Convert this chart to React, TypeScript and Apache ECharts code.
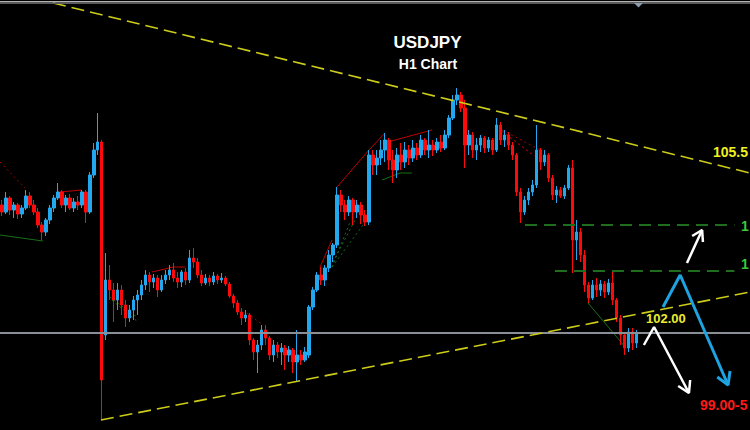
import { useEffect, useRef } from "react";
import * as echarts from "echarts";

// ---- data ----
const TITLE = "USDJPY";
const SUBTITLE = "H1 Chart";
const SLOT_COUNT = 188; // hourly slots across the window (candles + empty projection space)
const PRICE_MIN = 100.0;
const PRICE_MAX = 108.6;

// [open, close, low, high]
const CANDLES: number[][] = [
  [104.50, 104.36, 104.28, 104.60], [104.36, 104.64, 104.32, 104.76], [104.64, 104.40, 104.30, 104.68],
  [104.40, 104.50, 104.24, 104.56], [104.50, 104.32, 104.22, 104.54], [104.32, 104.44, 104.24, 104.50],
  [104.44, 104.68, 104.40, 104.80], [104.68, 104.50, 104.44, 104.76], [104.50, 104.36, 104.30, 104.60],
  [104.36, 104.10, 104.04, 104.44], [104.10, 103.96, 103.80, 104.16], [103.96, 104.20, 103.88, 104.24],
  [104.20, 104.44, 104.12, 104.50], [104.44, 104.64, 104.36, 104.70], [104.64, 104.76, 104.60, 104.94],
  [104.76, 104.50, 104.44, 104.80], [104.50, 104.64, 104.36, 104.70], [104.64, 104.44, 104.40, 104.72],
  [104.44, 104.56, 104.36, 104.64], [104.56, 104.50, 104.40, 104.68], [104.50, 104.76, 104.44, 104.80],
  [104.76, 104.36, 104.14, 104.80], [104.36, 105.10, 104.32, 105.16], [105.10, 105.60, 105.04, 105.74],
  [105.60, 105.76, 105.50, 106.34], [105.76, 101.00, 100.20, 105.80], [101.90, 103.00, 101.80, 103.54],
  [103.00, 102.80, 102.60, 103.30], [102.80, 102.60, 102.16, 102.94], [102.60, 102.80, 102.40, 102.94],
  [102.80, 102.50, 102.30, 102.90], [102.50, 102.24, 102.06, 102.60], [102.24, 102.40, 102.16, 102.50],
  [102.40, 102.60, 102.20, 102.68], [102.60, 102.70, 102.30, 102.80], [102.70, 102.90, 102.60, 103.00],
  [102.90, 103.10, 102.80, 103.20], [103.10, 102.96, 102.76, 103.16], [102.96, 103.04, 102.84, 103.12],
  [103.04, 102.80, 102.66, 103.10], [102.80, 103.00, 102.76, 103.10], [103.00, 103.10, 102.92, 103.20],
  [103.10, 103.20, 103.00, 103.30], [103.20, 103.04, 102.96, 103.34], [103.04, 102.96, 102.84, 103.16],
  [102.96, 103.16, 102.86, 103.20], [103.16, 103.00, 102.90, 103.24], [103.00, 103.44, 102.94, 103.60],
  [103.44, 103.36, 103.24, 103.64], [103.36, 103.10, 103.04, 103.44], [103.10, 102.94, 102.88, 103.20],
  [102.94, 103.04, 102.90, 103.12], [103.04, 102.96, 102.88, 103.10], [102.96, 103.08, 102.90, 103.16],
  [103.08, 103.00, 102.92, 103.12], [103.00, 103.04, 102.94, 103.14], [103.04, 102.92, 102.88, 103.08],
  [102.92, 102.68, 102.64, 102.96], [102.68, 102.54, 102.44, 102.72], [102.54, 102.36, 102.30, 102.60],
  [102.36, 102.24, 102.10, 102.44], [102.24, 102.30, 102.16, 102.40], [102.30, 101.80, 101.70, 102.34],
  [101.80, 101.56, 101.40, 101.84], [101.56, 101.70, 101.14, 101.80], [101.70, 102.00, 101.60, 102.10],
  [102.00, 101.84, 101.70, 102.10], [101.84, 101.50, 101.40, 101.88], [101.50, 101.70, 101.36, 101.80],
  [101.70, 101.56, 101.44, 101.76], [101.56, 101.64, 101.30, 101.74], [101.64, 101.50, 101.20, 101.70],
  [101.50, 101.60, 101.36, 101.68], [101.60, 101.36, 101.14, 101.64], [101.36, 101.50, 100.96, 102.00],
  [101.50, 101.40, 101.30, 101.60], [101.40, 101.56, 101.36, 101.66], [101.50, 102.46, 101.44, 102.50],
  [102.46, 102.80, 102.40, 102.86], [102.80, 103.10, 102.76, 103.16], [103.10, 103.00, 102.90, 103.26],
  [103.00, 103.24, 102.88, 103.30], [103.24, 103.50, 103.16, 103.60], [103.50, 103.70, 103.36, 103.74],
  [103.70, 104.70, 103.64, 104.86], [104.70, 104.50, 104.36, 104.80], [104.50, 104.36, 104.20, 104.60],
  [104.36, 104.60, 104.28, 104.68], [104.60, 104.36, 104.10, 104.64], [104.36, 104.50, 104.24, 104.60],
  [104.50, 104.30, 104.12, 104.56], [104.30, 104.16, 104.08, 104.40], [104.16, 105.50, 104.10, 105.60],
  [105.50, 105.30, 105.10, 105.60], [105.30, 105.44, 105.10, 105.60], [105.44, 105.60, 105.30, 105.80],
  [105.60, 105.80, 105.36, 105.94], [105.80, 105.40, 105.20, 105.84], [105.40, 105.20, 104.94, 105.60],
  [105.20, 105.50, 105.04, 105.64], [105.50, 105.36, 105.20, 105.74], [105.36, 105.60, 105.24, 105.76],
  [105.60, 105.44, 105.30, 105.70], [105.44, 105.64, 105.36, 105.80], [105.64, 105.50, 105.40, 105.74],
  [105.50, 105.80, 105.44, 105.90], [105.80, 105.60, 105.50, 105.84], [105.60, 105.70, 105.44, 106.00],
  [105.70, 105.60, 105.48, 105.80], [105.60, 105.76, 105.54, 105.84], [105.76, 105.64, 105.56, 105.90],
  [105.64, 105.90, 105.60, 106.00], [105.90, 106.24, 105.84, 106.30], [106.24, 106.60, 106.20, 106.70],
  [106.60, 106.70, 106.50, 106.84], [106.70, 106.44, 106.36, 106.76], [106.44, 105.70, 105.24, 106.60],
  [105.70, 105.90, 105.50, 106.00], [105.90, 105.60, 105.44, 105.96], [105.60, 105.70, 105.40, 105.84],
  [105.70, 105.84, 105.56, 105.90], [105.84, 105.64, 105.54, 105.88], [105.64, 105.80, 105.56, 105.86],
  [105.80, 105.60, 105.50, 105.84], [105.60, 106.10, 105.56, 106.24], [106.10, 105.80, 105.70, 106.16],
  [105.80, 105.90, 105.66, 106.00], [105.90, 105.70, 105.60, 105.96], [105.70, 105.50, 105.40, 105.76],
  [105.50, 104.76, 104.68, 105.54], [104.76, 104.36, 104.14, 104.84], [104.36, 104.60, 104.30, 104.68],
  [104.60, 104.76, 104.50, 104.84], [104.76, 104.90, 104.68, 105.00], [104.90, 105.60, 104.84, 106.10],
  [105.60, 105.36, 105.20, 105.64], [105.36, 105.50, 105.28, 105.60], [105.50, 105.04, 104.96, 105.54],
  [105.04, 104.70, 104.60, 105.10], [104.70, 104.80, 104.54, 104.88], [104.80, 104.68, 104.64, 104.86],
  [104.68, 104.84, 104.62, 104.90], [104.84, 105.24, 104.80, 105.30], [105.24, 103.80, 103.14, 105.40],
  [103.80, 103.96, 103.40, 104.20], [103.96, 103.50, 103.36, 104.04], [103.50, 102.90, 102.76, 103.60],
  [102.90, 102.64, 102.54, 102.96], [102.64, 102.90, 102.60, 103.00], [102.90, 102.80, 102.66, 103.04],
  [102.80, 102.92, 102.68, 103.00], [102.92, 102.76, 102.64, 102.98], [102.76, 102.94, 102.70, 103.02],
  [102.94, 102.60, 102.50, 103.20], [102.60, 102.24, 102.16, 102.64], [102.24, 101.90, 101.70, 102.30],
  [101.90, 101.64, 101.50, 101.96], [101.64, 101.96, 101.56, 102.04], [101.96, 101.74, 101.60, 102.04],
  [101.74, 101.94, 101.64, 102.00],
];

// trend channel [slot, price]
const UPPER_TREND = [[12.8, 108.54], [187.5, 105.14]];
const LOWER_TREND = [[24.8, 100.2], [187.5, 102.76]];
const CURRENT_PRICE = 101.94;
const LEVEL_HIGH = [[131.1, 104.1], [183.6, 104.1]];
const LEVEL_LOW = [[138.6, 103.18], [183.6, 103.18]];

// indicator zigzag / fractal lines [slot, price]
const RED_DOTTED = [
  [[-0.5, 105.36], [5.77, 104.84]],
  [[61.4, 102.34], [65.43, 102.1]],
  [[125.4, 106.0], [134.9, 105.6]],
  [[125.4, 105.96], [134.9, 105.4]],
  [[125.4, 105.98], [133.0, 105.5]],
];
const RED_SOLID = [
  [[14.54, 104.76], [19.81, 104.8], [20.06, 104.68]],
  [[37.6, 103.16], [42.87, 103.26], [45.88, 103.26]],
  [[79.72, 103.26], [82.73, 103.8]],
  [[83.98, 104.86], [92.0, 105.6], [95.77, 105.92]],
  [[95.77, 105.74], [107.8, 106.0]],
];
const GREEN_SOLID = [
  [[-0.5, 103.9], [10.28, 103.78]],
  [[95.27, 105.0], [99.78, 105.14], [102.8, 105.14]],
  [[107.5, 105.64], [110.0, 105.64]],
  [[146.9, 102.54], [156.2, 101.66]],
];
const GREEN_DOTTED = [
  [[27.07, 102.66], [34.1, 102.24]],
  [[27.5, 102.6], [34.1, 102.16]],
  [[82.73, 103.26], [87.24, 104.16]],
  [[82.73, 103.26], [90.5, 104.1]],
  [[82.98, 103.36], [88.5, 104.2]],
];

// forecast arrows [slot, price]
const WHITE_UP_ARROW = [[171.7, 103.34], [175.5, 104.0]];
const WHITE_UP_HEAD = [[173.0, 103.88], [175.5, 104.0], [175.7, 103.76]];
const WHITE_DOWN_PATH = [[160.9, 101.7], [163.45, 102.06], [172.2, 100.74]];
const WHITE_DOWN_HEAD = [[169.5, 100.88], [172.2, 100.74], [172.5, 101.0]];
const BLUE_PATH = [[165.7, 102.46], [170.0, 103.1], [182.0, 100.9]];
const BLUE_HEAD = [[179.3, 101.06], [182.0, 100.9], [182.5, 101.18]];

// annotation texts as they are visible in the window
const LABEL_RESIST = "105.5";
const LABEL_LEVEL_HIGH = "1";
const LABEL_LEVEL_LOW = "1";
const LABEL_PIVOT = "102.00";
const LABEL_TARGET = "99.00-5";

function line(points: number[][], color: string, width: number, type: any, z: number) {
  return {
    type: "line",
    xAxisIndex: 1,
    yAxisIndex: 0,
    data: points,
    symbol: "none",
    showSymbol: false,
    silent: true,
    z,
    lineStyle: { color, width, type, cap: "butt" },
  };
}

export default function App() {
  const ref = useRef<HTMLDivElement>(null);
  useEffect(() => {
    document.body.style.margin = "0";
    document.body.style.background = "#000";
    const chart = echarts.init(ref.current!, undefined, { renderer: "svg" });
    const slots = Array.from({ length: SLOT_COUNT }, (_, i) => String(i));
    const series: any[] = [];
    RED_DOTTED.forEach((p) => series.push(line(p, "#a00000", 1, [2, 3], 1)));
    RED_SOLID.forEach((p) => series.push(line(p, "#c00000", 1, "solid", 1)));
    GREEN_SOLID.forEach((p) => series.push(line(p, "#167016", 1, "solid", 1)));
    GREEN_DOTTED.forEach((p) => series.push(line(p, "#167016", 1, [2, 3], 1)));
    series.push({
      type: "candlestick",
      xAxisIndex: 0,
      yAxisIndex: 0,
      data: CANDLES,
      barWidth: 3,
      z: 2,
      silent: true,
      itemStyle: {
        color: "#22a8ee",
        color0: "#ff0a0a",
        borderColor: "#22a8ee",
        borderColor0: "#ff0a0a",
        borderWidth: 1,
      },
    });
    series.push(line([[-0.5, CURRENT_PRICE], [187.5, CURRENT_PRICE]], "#8a8f96", 2, "solid", 3));
    series.push(line(UPPER_TREND, "#cccc1a", 1.6, [13, 6], 4));
    series.push(line(LOWER_TREND, "#cccc1a", 1.6, [13, 6], 4));
    series.push(line(LEVEL_HIGH, "#1e6e1e", 2, [12, 7], 4));
    series.push(line(LEVEL_LOW, "#1e6e1e", 2, [12, 7], 4));
    series.push(line(WHITE_UP_ARROW, "#ffffff", 2.5, "solid", 5));
    series.push(line(WHITE_UP_HEAD, "#ffffff", 2.5, "solid", 5));
    series.push(line(WHITE_DOWN_PATH, "#ffffff", 2.5, "solid", 5));
    series.push(line(WHITE_DOWN_HEAD, "#ffffff", 2.5, "solid", 5));
    series.push(line(BLUE_PATH, "#1ea2e0", 3, "solid", 5));
    series.push(line(BLUE_HEAD, "#1ea2e0", 3, "solid", 5));

    const font = '"Liberation Sans", Arial, sans-serif';
    const txt = (text: string, x: number, y: number, size: number, fill: string, align = "left") => ({
      type: "text",
      x,
      y,
      z: 10,
      silent: true,
      style: {
        text,
        fill,
        font: `bold ${size}px ${font}`,
        textAlign: align,
        textVerticalAlign: "middle",
        verticalAlign: "middle",
      },
    });

    chart.setOption({
      animation: false,
      backgroundColor: "#000000",
      grid: { left: 0, right: 0, top: 0, bottom: 0, containLabel: false },
      xAxis: [
        { type: "category", data: slots, show: false, boundaryGap: true },
        { type: "value", min: -0.5, max: 187.5, show: false },
      ],
      yAxis: { type: "value", min: PRICE_MIN, max: PRICE_MAX, show: false },
      series,
      graphic: [
        { type: "rect", shape: { x: 0, y: 1, width: 750, height: 1.5 }, style: { fill: "#b4b4b4" }, z: 10 },
        { type: "rect", shape: { x: 0, y: 3, width: 750, height: 1 }, style: { fill: "#5a5a5a" }, z: 10 },
        {
          type: "polygon",
          shape: { points: [[634, 3], [643, 3], [638.5, 7.5]] },
          style: { fill: "#8c9cac" },
          z: 11,
        },
        txt(TITLE, 427.5, 42, 17, "#ffffff", "center"),
        txt(SUBTITLE, 428, 64, 14, "#ffffff", "center"),
        txt(LABEL_RESIST, 713, 152, 14, "#f0f020"),
        txt(LABEL_LEVEL_HIGH, 741, 226, 14, "#3cc83c"),
        txt(LABEL_LEVEL_LOW, 741, 264, 14, "#3cc83c"),
        txt(LABEL_PIVOT, 646, 318, 13, "#ecec30"),
        txt(LABEL_TARGET, 700, 405, 14, "#ff1a1a"),
      ],
    });
    return () => chart.dispose();
  }, []);
  return <div ref={ref} style={{ width: 750, height: 430, position: "absolute", left: 0, top: 0 }} />;
}
